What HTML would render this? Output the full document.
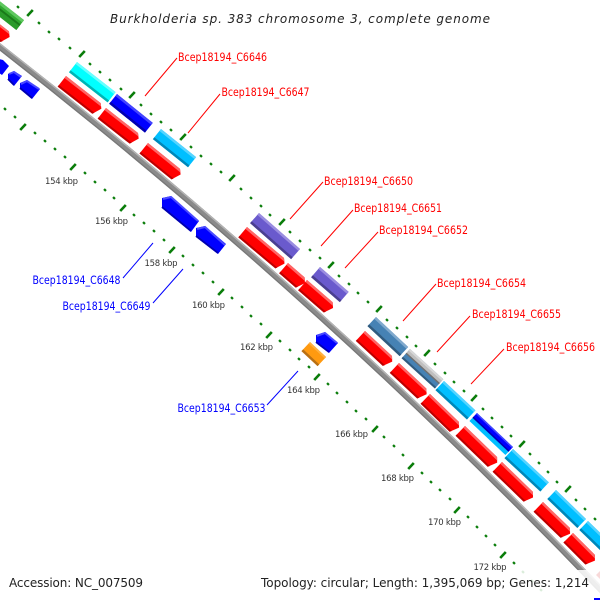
<!DOCTYPE html>
<html><head><meta charset="utf-8">
<style>
html,body{margin:0;padding:0;background:#fff}
svg{display:block}
text{font-family:"DejaVu Sans","Liberation Sans",sans-serif}
.r{font-size:11.5px;fill:#f00}
.b{font-size:11.5px;fill:#00f}
.k{font-size:8.5px;fill:#333}
.m{font-size:12px;fill:#222}
</style></head><body>
<svg width="600" height="600" viewBox="0 0 600 600" xmlns="http://www.w3.org/2000/svg">
<rect width="600" height="600" fill="#fff"/>

<!-- backbone -->
<path d="M-5 43A5600 5600 0 0 1 605 594" fill="none" stroke="#8a8a8a" stroke-width="6.2"/>
<path d="M-5 43A5600 5600 0 0 1 605 594" fill="none" stroke="#b4b4b4" stroke-width="1.4" transform="translate(1.5,-1.7)"/>
<path d="M-5 43A5600 5600 0 0 1 605 594" fill="none" stroke="#777" stroke-width="1.2" transform="translate(-1.6,1.8)"/>

<!-- minor ticks -->
<path fill="none" stroke="#0a7d0a" stroke-width="2.7" transform="translate(-.8,.8)" d="M18 7l1.6-1.6M39 23l1.6-1.6M49 32l1.6-1.6M59 39l1.6-1.6M70 48l1.6-1.6M90 64l1.6-1.6M100 72l1.6-1.6M110 80l1.6-1.6M121 89l1.6-1.6M141 105l1.6-1.6M151 114l1.6-1.6M161 122l1.6-1.6M171 130l1.6-1.6M191 147l1.6-1.6M201 156l1.6-1.6M211 164l1.6-1.6M221 172l1.6-1.6M241 189l1.6-1.6M251 198l1.6-1.6M261 206l1.6-1.6M270 215l1.6-1.6M290 232l1.6-1.6M300 241l1.6-1.6M310 250l1.6-1.6M320 258l1.6-1.6M339 276l1.6-1.6M349 284l1.6-1.6M358 293l1.6-1.6M368 302l1.6-1.6M387 320l1.6-1.6M397 328l1.6-1.6M407 337l1.6-1.6M416 346l1.6-1.6M435 364l1.6-1.6M445 373l1.6-1.6M454 382l1.6-1.6M464 391l1.6-1.6M483 409l1.6-1.6M492 418l1.6-1.6M502 427l1.6-1.6M511 436l1.6-1.6M530 454l1.6-1.6M539 463l1.6-1.6M548 472l1.6-1.6M557 482l1.6-1.6M576 500l1.6-1.6M585 509l1.6-1.6M595 519l1.6-1.6
M5 109l1.6-1.6M15 117l1.6-1.6M35 133l1.6-1.6M45 141l1.6-1.6M55 149l1.6-1.6M65 157l1.6-1.6M85 173l1.6-1.6M95 182l1.6-1.6M105 190l1.6-1.6M114 198l1.6-1.6M134 215l1.6-1.6M144 223l1.6-1.6M154 231l1.6-1.6M164 240l1.6-1.6M183 256l1.6-1.6M193 265l1.6-1.6M203 273l1.6-1.6M213 282l1.6-1.6M232 298l1.6-1.6M242 307l1.6-1.6M251 316l1.6-1.6M261 324l1.6-1.6M280 341l1.6-1.6M290 350l1.6-1.6M299 359l1.6-1.6M309 367l1.6-1.6M328 384l1.6-1.6M337 393l1.6-1.6M347 402l1.6-1.6M356 411l1.6-1.6M366 419l1.6-1.6M384 437l1.6-1.6M394 446l1.6-1.6M403 455l1.6-1.6M422 473l1.6-1.6M431 482l1.6-1.6M440 490l1.6-1.6M450 499l1.6-1.6M468 517l1.6-1.6M477 527l1.6-1.6M486 536l1.6-1.6M495 545l1.6-1.6M514 563l1.6-1.6M523 572l1.6-1.6M532 581l1.6-1.6M541 590l1.6-1.6"/>
<!-- major ticks -->
<path fill="none" stroke="#0a7d0a" stroke-width="2.6" transform="translate(-2.8,3)" d="M30 13l5.6-6M82 54l5.6-6M132 95l5.6-6M183 137l5.6-6M232 178l5.6-6M282 222l5.6-6M331 265l5.6-6M379 309l5.6-6M427 353l5.6-6M474 398l5.6-6M522 444l5.6-6M568 489l5.6-6
M23 127l5.6-6M73 167l5.6-6M123 208l5.6-6M172 250l5.6-6M221 292l5.6-6M269 335l5.6-6M317 377l5.6-6M375 429l5.6-6M411 466l5.6-6M457 510l5.6-6M503 555l5.6-6"/>

<!-- green -->
<g transform="translate(-26,-19) rotate(38)">
<rect width="63.5" height="12.5" fill="#2fa82f"/>
<rect width="63.5" height="3" fill="#5fc85f"/>
<rect y="5.5" width="63.5" height="2" fill="#1a7a1a"/>
<rect y="7.5" width="63.5" height="5" fill="#2a9a2a"/>
</g>

<!-- red genes -->
<g fill="#f00">
<g transform="translate(-21,8) rotate(38)"><path d="M0 0H38l4 4-4 9.5H0z"/><path d="M0 0H38l2 2H0z" fill="#f66"/><path d="M0 11.5H39l-1 2H0z" fill="#b00"/></g>
<g transform="translate(66,76) rotate(38)"><path d="M0 0H44l4 4-4 9.5H0z"/><path d="M0 0H44l2.5 2.5H0z" fill="#f66"/><path d="M0 11.5H45l-1 2H0z" fill="#b00"/></g>
<g transform="translate(106,108) rotate(38)"><path d="M0 0H40.6l4 4-4 9.5H0z"/><path d="M0 0H40.6l2.5 2.5H0z" fill="#f66"/><path d="M0 11.5H41.6l-1 2H0z" fill="#b00"/></g>
<g transform="translate(148,143) rotate(39)"><path d="M0 0H41.2l4 4-4 9.5H0z"/><path d="M0 0H41.2l2.5 2.5H0z" fill="#f66"/><path d="M0 11.5H42.2l-1 2H0z" fill="#b00"/></g>
<g transform="translate(247,227) rotate(40)"><path d="M0 0H48.3l4 4-4 9.5H0z"/><path d="M0 0H48.3l2.5 2.5H0z" fill="#f66"/><path d="M0 11.5H49.3l-1 2H0z" fill="#b00"/></g>
<g transform="translate(288,263) rotate(41)"><path d="M0 0H22l4 4-4 9.5H0z"/><path d="M0 0H22l2.5 2.5H0z" fill="#f66"/><path d="M0 11.5H23l-1 2H0z" fill="#b00"/></g>
<g transform="translate(307,280) rotate(41)"><path d="M0 0H34l4 4-4 9.5H0z"/><path d="M0 0H34l2.5 2.5H0z" fill="#f66"/><path d="M0 11.5H35l-1 2H0z" fill="#b00"/></g>
<g transform="translate(365,331) rotate(42.8)"><path d="M0 0H36.8l4 4-4 9.5H0z"/><path d="M0 0H36.8l2.5 2.5H0z" fill="#f66"/><path d="M0 11.5H37.8l-1 2H0z" fill="#b00"/></g>
<g transform="translate(399,363) rotate(43)"><path d="M0 0H37.5l4 4-4 9.5H0z"/><path d="M0 0H37.5l2.5 2.5H0z" fill="#f66"/><path d="M0 11.5H38.5l-1 2H0z" fill="#b00"/></g>
<g transform="translate(430,394) rotate(44)"><path d="M0 0H40.3l4 4-4 9.5H0z"/><path d="M0 0H40.3l2.5 2.5H0z" fill="#f66"/><path d="M0 11.5H41.3l-1 2H0z" fill="#b00"/></g>
<g transform="translate(465,426) rotate(44)"><path d="M0 0H44.6l4 4-4 9.5H0z"/><path d="M0 0H44.6l2.5 2.5H0z" fill="#f66"/><path d="M0 11.5H45.6l-1 2H0z" fill="#b00"/></g>
<g transform="translate(502,462) rotate(44)"><path d="M0 0H43l4 4-4 9.5H0z"/><path d="M0 0H43l2.5 2.5H0z" fill="#f66"/><path d="M0 11.5H44l-1 2H0z" fill="#b00"/></g>
<g transform="translate(543,502) rotate(44)"><path d="M0 0H37.5l4 4-4 9.5H0z"/><path d="M0 0H37.5l2.5 2.5H0z" fill="#f66"/><path d="M0 11.5H38.5l-1 2H0z" fill="#b00"/></g>
<g transform="translate(573,533) rotate(45)"><path d="M0 0H31l4 4-4 9.5H0z"/><path d="M0 0H31l2.5 2.5H0z" fill="#f66"/><path d="M0 11.5H32l-1 2H0z" fill="#b00"/></g>
<path d="M600 571L596 575L600 579z" fill="#c00"/>
</g>

<!-- cyan / blue / light blue -->
<g transform="translate(77,62) rotate(38)"><rect width="49" height="13" fill="#0ff"/><rect width="49" height="2.5" fill="#66ffff"/><rect y="10.5" width="49" height="2.5" fill="#00b4b4"/></g>
<g transform="translate(117,94) rotate(38.9)"><rect width="46" height="12.5" fill="#00f"/><rect width="46" height="2.5" fill="#4444ff"/><rect y="10" width="46" height="2.5" fill="#0000b0"/></g>
<g transform="translate(161,129) rotate(38.7)"><rect width="45" height="13" fill="#00bfff"/><rect width="45" height="2.5" fill="#55d4ff"/><rect y="10.5" width="45" height="2.5" fill="#0087b8"/></g>
<g transform="translate(259,213) rotate(41.3)"><rect width="54.6" height="13.5" fill="#6a5acd"/><rect width="54.6" height="2.5" fill="#9a8de0"/><rect y="11" width="54.6" height="2.5" fill="#4a3f90"/></g>
<g transform="translate(320,267) rotate(41)"><rect width="38" height="13.5" fill="#6a5acd"/><rect width="38" height="2.5" fill="#9a8de0"/><rect y="11" width="38" height="2.5" fill="#4a3f90"/></g>
<g transform="translate(376,317) rotate(43)"><rect width="44" height="12.5" fill="#4682b4"/><rect width="44" height="2.5" fill="#80a9cd"/><rect y="10" width="44" height="2.5" fill="#315b7e"/></g>
<g transform="translate(410,349) rotate(42.3)"><rect width="45" height="12.5" fill="#4682b4"/><rect width="45" height="6" fill="#bebebe"/><rect width="45" height="2" fill="#d8d8d8"/><rect y="5" width="45" height="1.5" fill="#707070"/><rect y="10.5" width="45" height="2" fill="#315b7e"/></g>
<g transform="translate(444,381) rotate(43)"><rect width="43" height="12.5" fill="#00bfff"/><rect width="43" height="2.5" fill="#55d4ff"/><rect y="10" width="43" height="2.5" fill="#0087b8"/></g>
<g transform="translate(477,413) rotate(43.4)"><rect width="49.5" height="11" fill="#00bfff"/><rect width="49.5" height="6.5" fill="#00f"/><rect width="49.5" height="1.5" fill="#4444ff"/><rect y="5" width="49.5" height="1.5" fill="#0000b0"/></g>
<g transform="translate(513,449) rotate(43)"><rect width="49" height="12.5" fill="#00bfff"/><rect width="49" height="2.5" fill="#55d4ff"/><rect y="10" width="49" height="2.5" fill="#0087b8"/></g>
<g transform="translate(556,490) rotate(44)"><rect width="41.7" height="12.5" fill="#00bfff"/><rect width="41.7" height="2.5" fill="#55d4ff"/><rect y="10" width="41.7" height="2.5" fill="#0087b8"/></g>
<g transform="translate(588,521) rotate(44)"><rect width="30" height="12.5" fill="#00bfff"/><rect width="30" height="2.5" fill="#55d4ff"/><rect y="10" width="30" height="2.5" fill="#0087b8"/></g>

<!-- reverse strand blue arrows -->
<g fill="#00f">
<polygon points="-1,59 3,60 9,66 2,75 -1,73"/>
<polygon points="8,74 14,71 22,76 14,86 8,80"/>
<polygon points="20,83 27,80 40,89 32,99 20,89"/>
<polygon points="162,198 171,196 199,221 191,232 162,208"/>
<polygon points="196,228 205,226 226,244 218,254 196,237"/>
<polygon points="316,335 325,332 338,343 329,353 316,343"/>
</g>
<path fill="none" stroke="#4a4aff" stroke-width="2" d="M9 74l5-2 7 5M21 84l6-3 12 8M163 199l8-2 27 24M197 229l8-2 20 18M317 336l8-3 12 10"/>
<path fill="none" stroke="#0000b0" stroke-width="1.8" d="M162 207l29 24M196 236l22 17M316 342l13 10M20 88l12 10M8 79l6 6"/>

<!-- orange -->
<g transform="translate(310,342) rotate(43)"><rect width="22" height="12.5" fill="#ff9a10"/><rect width="22" height="2" fill="#ffb040"/><rect y="10" width="22" height="2.5" fill="#b87014"/></g>

<!-- leader lines -->
<path fill="none" stroke="#f00" stroke-width="1" d="M177 58L145 96M220 94L188 133M323 182L290 219M353 210L321 246M378 232L345 268M436 284L403 321M470 316L437 352M504 349L471 384"/>
<path fill="none" stroke="#00f" stroke-width="1" d="M123 278L153 243M153 303L183 269M267 405L298 371"/>

<!-- gene labels -->
<text class="r" x="178" y="61" textLength="89" lengthAdjust="spacingAndGlyphs">Bcep18194_C6646</text>
<text class="r" x="221.5" y="96" textLength="88" lengthAdjust="spacingAndGlyphs">Bcep18194_C6647</text>
<text class="r" x="324" y="185" textLength="89" lengthAdjust="spacingAndGlyphs">Bcep18194_C6650</text>
<text class="r" x="354" y="212" textLength="88" lengthAdjust="spacingAndGlyphs">Bcep18194_C6651</text>
<text class="r" x="379" y="234" textLength="89" lengthAdjust="spacingAndGlyphs">Bcep18194_C6652</text>
<text class="r" x="437" y="287" textLength="89" lengthAdjust="spacingAndGlyphs">Bcep18194_C6654</text>
<text class="r" x="472" y="318" textLength="89" lengthAdjust="spacingAndGlyphs">Bcep18194_C6655</text>
<text class="r" x="506" y="351" textLength="89" lengthAdjust="spacingAndGlyphs">Bcep18194_C6656</text>
<text class="b" x="32.5" y="284" textLength="88" lengthAdjust="spacingAndGlyphs">Bcep18194_C6648</text>
<text class="b" x="62.5" y="310" textLength="88" lengthAdjust="spacingAndGlyphs">Bcep18194_C6649</text>
<text class="b" x="177.5" y="412" textLength="88" lengthAdjust="spacingAndGlyphs">Bcep18194_C6653</text>

<!-- kbp labels -->
<text class="k" x="45" y="184" textLength="33">154 kbp</text>
<text class="k" x="95" y="224" textLength="33">156 kbp</text>
<text class="k" x="144.5" y="266" textLength="33">158 kbp</text>
<text class="k" x="192" y="308" textLength="33">160 kbp</text>
<text class="k" x="240" y="350" textLength="33">162 kbp</text>
<text class="k" x="287" y="393" textLength="33">164 kbp</text>
<text class="k" x="335" y="437" textLength="33">166 kbp</text>
<text class="k" x="381" y="481" textLength="33">168 kbp</text>
<text class="k" x="428" y="525" textLength="33">170 kbp</text>

<!-- legend veil -->
<rect x="0" y="570" width="600" height="27" fill="#fff" fill-opacity=".85"/>
<rect x="594" y="598" width="6" height="2" fill="#00f"/>

<text class="k" x="473.5" y="570" textLength="33">172 kbp</text>

<!-- title and legend -->
<text x="110" y="23" font-size="12" font-style="italic" fill="#222" textLength="380">Burkholderia sp. 383 chromosome 3, complete genome</text>
<text class="m" x="9" y="587" textLength="134">Accession: NC_007509</text>
<text class="m" x="261" y="587" textLength="328">Topology: circular; Length: 1,395,069 bp; Genes: 1,214</text>
</svg>
</body></html>
